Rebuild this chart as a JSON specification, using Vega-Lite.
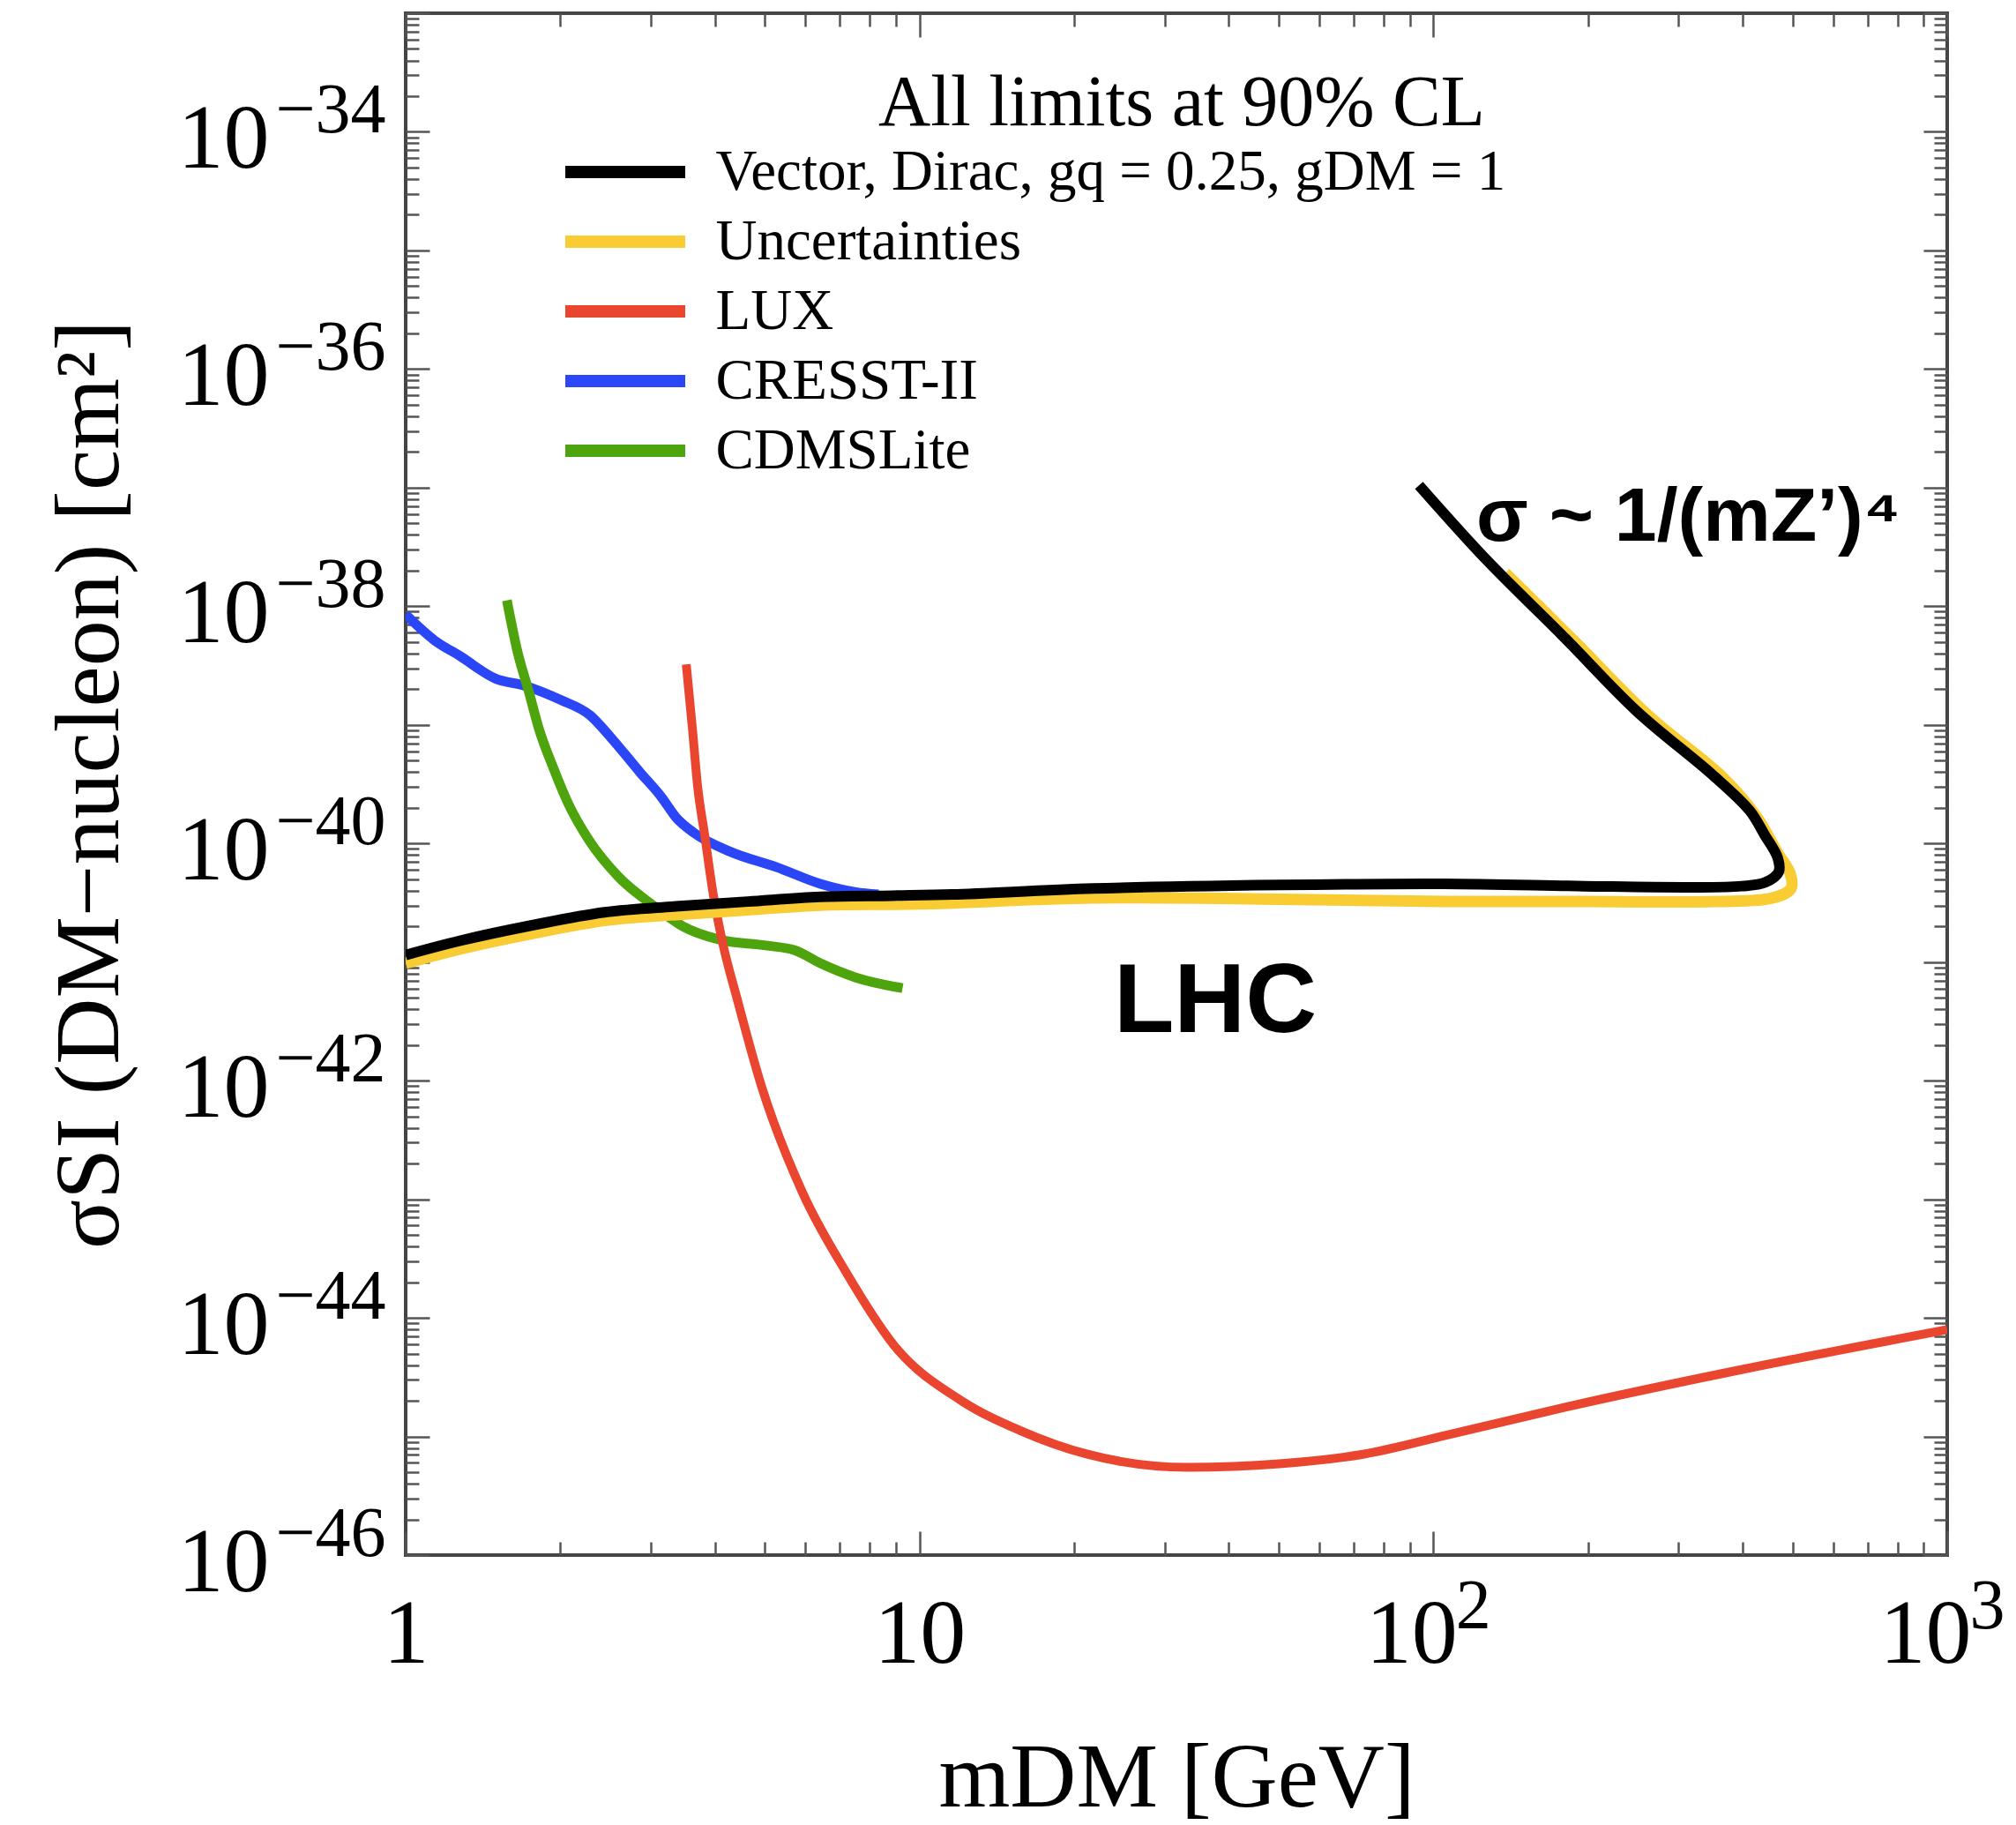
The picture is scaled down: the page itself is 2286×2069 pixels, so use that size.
{
 "$schema": "https://vega.github.io/schema/vega-lite/v6.json",
 "width": 1748,
 "height": 1748,
 "autosize": {"type": "none"},
 "padding": {"left": 460, "top": 15, "right": 78, "bottom": 306},
 "background": "white",
 "config": {
  "view": {"stroke": "#444444", "strokeWidth": 4},
  "axis": {"grid": false, "domain": false, "labelFlush": false, "labelOverlap": false, "labelBound": false, "tickColor": "#555555", "tickWidth": 2.5, "labelColor": "black", "titleColor": "black", "labelFont": "Liberation Serif", "titleFont": "Liberation Serif", "titleFontWeight": "normal", "labelLimit": 1000}
 },
 "datasets": {
  "curves": [
   {"series": "Vector, Dirac, gq = 0.25, gDM = 1", "i": 0, "m": 1, "s": 1.148e-41},
   {"series": "Vector, Dirac, gq = 0.25, gDM = 1", "i": 1, "m": 1.276, "s": 1.514e-41},
   {"series": "Vector, Dirac, gq = 0.25, gDM = 1", "i": 2, "m": 1.762, "s": 2.042e-41},
   {"series": "Vector, Dirac, gq = 0.25, gDM = 1", "i": 3, "m": 2.438, "s": 2.63e-41},
   {"series": "Vector, Dirac, gq = 0.25, gDM = 1", "i": 4, "m": 3.357, "s": 2.951e-41},
   {"series": "Vector, Dirac, gq = 0.25, gDM = 1", "i": 5, "m": 4.634, "s": 3.236e-41},
   {"series": "Vector, Dirac, gq = 0.25, gDM = 1", "i": 6, "m": 6.412, "s": 3.548e-41},
   {"series": "Vector, Dirac, gq = 0.25, gDM = 1", "i": 7, "m": 8.831, "s": 3.631e-41},
   {"series": "Vector, Dirac, gq = 0.25, gDM = 1", "i": 8, "m": 11.59, "s": 3.715e-41},
   {"series": "Vector, Dirac, gq = 0.25, gDM = 1", "i": 9, "m": 21.73, "s": 4.169e-41},
   {"series": "Vector, Dirac, gq = 0.25, gDM = 1", "i": 10, "m": 50.12, "s": 4.467e-41},
   {"series": "Vector, Dirac, gq = 0.25, gDM = 1", "i": 11, "m": 104.9, "s": 4.571e-41},
   {"series": "Vector, Dirac, gq = 0.25, gDM = 1", "i": 12, "m": 196.8, "s": 4.365e-41},
   {"series": "Vector, Dirac, gq = 0.25, gDM = 1", "i": 13, "m": 316.2, "s": 4.266e-41},
   {"series": "Vector, Dirac, gq = 0.25, gDM = 1", "i": 14, "m": 398.1, "s": 4.365e-41},
   {"series": "Vector, Dirac, gq = 0.25, gDM = 1", "i": 15, "m": 441.6, "s": 4.677e-41},
   {"series": "Vector, Dirac, gq = 0.25, gDM = 1", "i": 16, "m": 469.9, "s": 5.754e-41},
   {"series": "Vector, Dirac, gq = 0.25, gDM = 1", "i": 17, "m": 467.7, "s": 7.586e-41},
   {"series": "Vector, Dirac, gq = 0.25, gDM = 1", "i": 18, "m": 441.6, "s": 1.175e-40},
   {"series": "Vector, Dirac, gq = 0.25, gDM = 1", "i": 19, "m": 412.1, "s": 1.905e-40},
   {"series": "Vector, Dirac, gq = 0.25, gDM = 1", "i": 20, "m": 349.1, "s": 3.802e-40},
   {"series": "Vector, Dirac, gq = 0.25, gDM = 1", "i": 21, "m": 249.5, "s": 1.288e-39},
   {"series": "Vector, Dirac, gq = 0.25, gDM = 1", "i": 22, "m": 178.6, "s": 5.623e-39},
   {"series": "Vector, Dirac, gq = 0.25, gDM = 1", "i": 23, "m": 127.6, "s": 2.399e-38},
   {"series": "Vector, Dirac, gq = 0.25, gDM = 1", "i": 24, "m": 93.76, "s": 1.047e-37},
   {"series": "Uncertainties", "i": 0, "m": 1, "s": 9.772e-42},
   {"series": "Uncertainties", "i": 1, "m": 1.276, "s": 1.288e-41},
   {"series": "Uncertainties", "i": 2, "m": 1.762, "s": 1.738e-41},
   {"series": "Uncertainties", "i": 3, "m": 2.438, "s": 2.239e-41},
   {"series": "Uncertainties", "i": 4, "m": 3.357, "s": 2.512e-41},
   {"series": "Uncertainties", "i": 5, "m": 4.634, "s": 2.754e-41},
   {"series": "Uncertainties", "i": 6, "m": 6.412, "s": 3.02e-41},
   {"series": "Uncertainties", "i": 7, "m": 10, "s": 3.09e-41},
   {"series": "Uncertainties", "i": 8, "m": 21.73, "s": 3.467e-41},
   {"series": "Uncertainties", "i": 9, "m": 50.12, "s": 3.388e-41},
   {"series": "Uncertainties", "i": 10, "m": 104.9, "s": 3.236e-41},
   {"series": "Uncertainties", "i": 11, "m": 199.5, "s": 3.236e-41},
   {"series": "Uncertainties", "i": 12, "m": 354.8, "s": 3.236e-41},
   {"series": "Uncertainties", "i": 13, "m": 457.1, "s": 3.467e-41},
   {"series": "Uncertainties", "i": 14, "m": 496.6, "s": 4.169e-41},
   {"series": "Uncertainties", "i": 15, "m": 494.3, "s": 5.623e-41},
   {"series": "Uncertainties", "i": 16, "m": 467.7, "s": 8.318e-41},
   {"series": "Uncertainties", "i": 17, "m": 426.6, "s": 1.66e-40},
   {"series": "Uncertainties", "i": 18, "m": 367.3, "s": 3.548e-40},
   {"series": "Uncertainties", "i": 19, "m": 261.8, "s": 1.202e-39},
   {"series": "Uncertainties", "i": 20, "m": 186.6, "s": 5.248e-39},
   {"series": "Uncertainties", "i": 21, "m": 138.0, "s": 1.905e-38},
   {"series": "LUX", "i": 0, "m": 3.516, "s": 3.236e-39},
   {"series": "LUX", "i": 1, "m": 3.614, "s": 9.333e-40},
   {"series": "LUX", "i": 2, "m": 3.698, "s": 3.09e-40},
   {"series": "LUX", "i": 3, "m": 3.819, "s": 1.175e-40},
   {"series": "LUX", "i": 4, "m": 3.972, "s": 3.631e-41},
   {"series": "LUX", "i": 5, "m": 4.14, "s": 1.445e-41},
   {"series": "LUX", "i": 6, "m": 4.416, "s": 4.898e-42},
   {"series": "LUX", "i": 7, "m": 4.92, "s": 9.12e-43},
   {"series": "LUX", "i": 8, "m": 5.929, "s": 1.122e-43},
   {"series": "LUX", "i": 9, "m": 7.161, "s": 2.512e-44},
   {"series": "LUX", "i": 10, "m": 8.954, "s": 5.754e-45},
   {"series": "LUX", "i": 11, "m": 12.08, "s": 1.995e-45},
   {"series": "LUX", "i": 12, "m": 15.7, "s": 1.122e-45},
   {"series": "LUX", "i": 13, "m": 21.23, "s": 7.079e-46},
   {"series": "LUX", "i": 14, "m": 33.19, "s": 5.495e-46},
   {"series": "LUX", "i": 15, "m": 50.12, "s": 5.888e-46},
   {"series": "LUX", "i": 16, "m": 72.95, "s": 7.079e-46},
   {"series": "LUX", "i": 17, "m": 105.9, "s": 1.023e-45},
   {"series": "LUX", "i": 18, "m": 186.2, "s": 1.82e-45},
   {"series": "LUX", "i": 19, "m": 393.6, "s": 3.631e-45},
   {"series": "LUX", "i": 20, "m": 1000, "s": 7.943e-45},
   {"series": "CRESST-II", "i": 0, "m": 1, "s": 8.511e-39},
   {"series": "CRESST-II", "i": 1, "m": 1.14, "s": 5.129e-39},
   {"series": "CRESST-II", "i": 2, "m": 1.276, "s": 3.802e-39},
   {"series": "CRESST-II", "i": 3, "m": 1.496, "s": 2.455e-39},
   {"series": "CRESST-II", "i": 4, "m": 1.706, "s": 2.138e-39},
   {"series": "CRESST-II", "i": 5, "m": 2.004, "s": 1.622e-39},
   {"series": "CRESST-II", "i": 6, "m": 2.286, "s": 1.202e-39},
   {"series": "CRESST-II", "i": 7, "m": 2.512, "s": 7.762e-40},
   {"series": "CRESST-II", "i": 8, "m": 2.858, "s": 3.981e-40},
   {"series": "CRESST-II", "i": 9, "m": 3.148, "s": 2.455e-40},
   {"series": "CRESST-II", "i": 10, "m": 3.357, "s": 1.66e-40},
   {"series": "CRESST-II", "i": 11, "m": 3.639, "s": 1.23e-40},
   {"series": "CRESST-II", "i": 12, "m": 4.285, "s": 8.511e-41},
   {"series": "CRESST-II", "i": 13, "m": 5.272, "s": 6.31e-41},
   {"series": "CRESST-II", "i": 14, "m": 6.412, "s": 4.571e-41},
   {"series": "CRESST-II", "i": 15, "m": 7.516, "s": 3.89e-41},
   {"series": "CRESST-II", "i": 16, "m": 8.318, "s": 3.715e-41},
   {"series": "CDMSLite", "i": 0, "m": 1.574, "s": 1.122e-38},
   {"series": "CDMSLite", "i": 1, "m": 1.652, "s": 4.074e-39},
   {"series": "CDMSLite", "i": 2, "m": 1.734, "s": 1.95e-39},
   {"series": "CDMSLite", "i": 3, "m": 1.816, "s": 9.333e-40},
   {"series": "CDMSLite", "i": 4, "m": 1.941, "s": 4.266e-40},
   {"series": "CDMSLite", "i": 5, "m": 2.07, "s": 2.188e-40},
   {"series": "CDMSLite", "i": 6, "m": 2.28, "s": 1.047e-40},
   {"series": "CDMSLite", "i": 7, "m": 2.594, "s": 5.248e-41},
   {"series": "CDMSLite", "i": 8, "m": 3.048, "s": 2.951e-41},
   {"series": "CDMSLite", "i": 9, "m": 3.467, "s": 1.995e-41},
   {"series": "CDMSLite", "i": 10, "m": 4.074, "s": 1.549e-41},
   {"series": "CDMSLite", "i": 11, "m": 5.023, "s": 1.38e-41},
   {"series": "CDMSLite", "i": 12, "m": 5.715, "s": 1.259e-41},
   {"series": "CDMSLite", "i": 13, "m": 6.412, "s": 9.772e-42},
   {"series": "CDMSLite", "i": 14, "m": 7.516, "s": 7.413e-42},
   {"series": "CDMSLite", "i": 15, "m": 9.268, "s": 6.026e-42}
  ],
  "notes": [
   {"kind": "title", "m": 8.317, "s": 1.136e-34, "label": "All limits at 90% CL"},
   {"kind": "lhc", "m": 23.88, "s": 2.57e-42, "label": "LHC"},
   {"kind": "sigma", "m": 121.2, "s": 3.6e-38, "label": "σ ~ 1/(mZ’)⁴"}
  ]
 },
 "encoding": {
  "color": {
   "field": "series",
   "type": "nominal",
   "scale": {
    "domain": ["Vector, Dirac, gq = 0.25, gDM = 1", "Uncertainties", "LUX", "CRESST-II", "CDMSLite"],
    "range": ["#000000", "#F9CC33", "#E9452F", "#2B46F6", "#4EA40D"]
   },
   "legend": {
    "title": null,
    "orient": "none",
    "legendX": 216.5,
    "legendY": 147.5,
    "direction": "vertical",
    "columns": 1,
    "padding": 0,
    "offset": 0,
    "symbolType": "M-4,0H4",
    "symbolSize": 1156,
    "symbolStrokeWidth": 14,
    "symbolOffset": 0,
    "labelFont": "Liberation Serif",
    "labelFontSize": 65,
    "labelColor": "black",
    "labelOffset": 70,
    "labelLimit": 2000,
    "rowPadding": 13
   }
  }
 },
 "layer": [
  {
   "data": {"name": "curves"},
   "transform": [{"filter": "datum.series === 'CRESST-II'"}],
   "mark": {"type": "line", "strokeWidth": 11, "interpolate": "monotone", "clip": true},
   "encoding": {
    "x": {"field": "m", "type": "quantitative", "scale": {"type": "log", "domain": [1, 1000], "nice": false},
     "axis": {"orient": "bottom", "values": [1, 10], "labelExpr": "datum.value < 5 ? '1' : '10'", "ticks": false, "labelFontSize": 104, "labelAlign": "center", "labelBaseline": "alphabetic", "labelPadding": 121,
      "title": "mDM  [GeV]", "titleFontSize": 104, "titleAlign": "center", "titleBaseline": "alphabetic", "titleX": 874, "titleY": 284, "titleAngle": 0}},
    "y": {"field": "s", "type": "quantitative", "scale": {"type": "log", "domain": [1e-46, 1e-33], "nice": false},
     "axis": {"orient": "left", "values": [1e-46, 1e-44, 1e-42, 1e-40, 1e-38, 1e-36, 1e-34], "labelExpr": "'10'", "ticks": false, "labelFontSize": 104, "labelAlign": "right", "labelBaseline": "alphabetic", "labelPadding": 155, "labelOffset": 40,
      "title": "σSI (DM−nucleon)  [cm²]", "titleFontSize": 104, "titleAlign": "center", "titleBaseline": "alphabetic", "titleAngle": 270, "titleX": -327, "titleY": 874}}
   }
  },
  {
   "data": {"name": "curves"},
   "transform": [{"filter": "datum.series === 'CDMSLite'"}],
   "mark": {"type": "line", "strokeWidth": 11, "interpolate": "monotone", "clip": true},
   "encoding": {
    "x": {"field": "m", "type": "quantitative", "scale": {"type": "log", "domain": [1, 1000], "nice": false},
     "axis": {"orient": "bottom", "values": [100, 1000], "labelExpr": "'10'", "ticks": false, "labelFontSize": 104, "labelAlign": "center", "labelBaseline": "alphabetic", "labelPadding": 121, "labelOffset": -25, "title": null}},
    "y": {"field": "s", "type": "quantitative", "scale": {"type": "log", "domain": [1e-46, 1e-33], "nice": false},
     "axis": {"orient": "left", "values": [1e-46, 1e-44, 1e-42, 1e-40, 1e-38, 1e-36, 1e-34], "labelExpr": "'−' + format(-round(log(datum.value)/LN10), 'd')", "ticks": false, "labelFontSize": 80, "labelAlign": "right", "labelBaseline": "alphabetic", "labelPadding": 23, "labelOffset": 0, "title": null}}
   }
  },
  {
   "data": {"name": "curves"},
   "transform": [{"filter": "datum.series === 'LUX'"}],
   "mark": {"type": "line", "strokeWidth": 10, "interpolate": "monotone", "clip": true},
   "encoding": {
    "x": {"field": "m", "type": "quantitative", "scale": {"type": "log", "domain": [1, 1000], "nice": false},
     "axis": {"orient": "bottom", "values": [100, 1000], "labelExpr": "datum.value < 500 ? '2' : '3'", "ticks": false, "labelFontSize": 80, "labelAlign": "left", "labelBaseline": "alphabetic", "labelPadding": 82, "labelOffset": 25, "title": null}},
    "y": {"field": "s", "type": "quantitative", "scale": {"type": "log", "domain": [1e-46, 1e-33], "nice": false},
     "axis": {"orient": "left", "values": [1e-46, 1e-45, 1e-44, 1e-43, 1e-42, 1e-41, 1e-40, 1e-39, 1e-38, 1e-37, 1e-36, 1e-35, 1e-34, 1e-33], "labels": false, "ticks": true, "tickSize": -27, "title": null}}
   }
  },
  {
   "data": {"name": "curves"},
   "transform": [{"filter": "datum.series === 'Uncertainties'"}],
   "mark": {"type": "line", "strokeWidth": 13, "interpolate": "catmull-rom", "clip": true},
   "encoding": {
    "order": {"field": "i", "type": "quantitative"},
    "x": {"field": "m", "type": "quantitative", "scale": {"type": "log", "domain": [1, 1000], "nice": false},
     "axis": {"orient": "bottom", "values": [1, 10, 100, 1000], "labels": false, "ticks": true, "tickSize": -27, "title": null}},
    "y": {"field": "s", "type": "quantitative", "scale": {"type": "log", "domain": [1e-46, 1e-33], "nice": false},
     "axis": {"orient": "left", "values": [2e-46, 3e-46, 4e-46, 5e-46, 6e-46, 7e-46, 8e-46, 9e-46, 2e-45, 3e-45, 4e-45, 5e-45, 6e-45, 7e-45, 8e-45, 9e-45, 2e-44, 3e-44, 4e-44, 5e-44, 6e-44, 7e-44, 8e-44, 9e-44, 2e-43, 3e-43, 4e-43, 5e-43, 6e-43, 7e-43, 8e-43, 9e-43, 2e-42, 3e-42, 4e-42, 5e-42, 6e-42, 7e-42, 8e-42, 9e-42, 2e-41, 3e-41, 4e-41, 5e-41, 6e-41, 7e-41, 8e-41, 9e-41, 2e-40, 3e-40, 4e-40, 5e-40, 6e-40, 7e-40, 8e-40, 9e-40, 2e-39, 3e-39, 4e-39, 5e-39, 6e-39, 7e-39, 8e-39, 9e-39, 2e-38, 3e-38, 4e-38, 5e-38, 6e-38, 7e-38, 8e-38, 9e-38, 2e-37, 3e-37, 4e-37, 5e-37, 6e-37, 7e-37, 8e-37, 9e-37, 2e-36, 3e-36, 4e-36, 5e-36, 6e-36, 7e-36, 8e-36, 9e-36, 2e-35, 3e-35, 4e-35, 5e-35, 6e-35, 7e-35, 8e-35, 9e-35, 2e-34, 3e-34, 4e-34, 5e-34, 6e-34, 7e-34, 8e-34, 9e-34], "labels": false, "ticks": true, "tickSize": -15, "title": null}}
   }
  },
  {
   "data": {"name": "curves"},
   "transform": [{"filter": "datum.series === 'Vector, Dirac, gq = 0.25, gDM = 1'"}],
   "mark": {"type": "line", "strokeWidth": 12, "interpolate": "catmull-rom", "clip": true},
   "encoding": {
    "order": {"field": "i", "type": "quantitative"},
    "x": {"field": "m", "type": "quantitative", "scale": {"type": "log", "domain": [1, 1000], "nice": false},
     "axis": {"orient": "bottom", "values": [2, 3, 4, 5, 6, 7, 8, 9, 20, 30, 40, 50, 60, 70, 80, 90, 200, 300, 400, 500, 600, 700, 800, 900], "labels": false, "ticks": true, "tickSize": -15, "title": null}},
    "y": {"field": "s", "type": "quantitative", "scale": {"type": "log", "domain": [1e-46, 1e-33], "nice": false},
     "axis": {"orient": "right", "values": [1e-46, 1e-45, 1e-44, 1e-43, 1e-42, 1e-41, 1e-40, 1e-39, 1e-38, 1e-37, 1e-36, 1e-35, 1e-34, 1e-33], "labels": false, "ticks": true, "tickSize": -27, "title": null}}
   }
  },
  {
   "data": {"name": "notes"},
   "transform": [{"filter": "datum.kind === 'title'"}],
   "mark": {"type": "text", "font": "Liberation Serif", "fontSize": 82, "align": "left", "baseline": "alphabetic"},
   "encoding": {
    "text": {"field": "label"},
    "color": {"value": "black"},
    "x": {"field": "m", "type": "quantitative", "scale": {"type": "log", "domain": [1, 1000], "nice": false},
     "axis": {"orient": "top", "values": [1, 10, 100, 1000], "labels": false, "ticks": true, "tickSize": -27, "title": null}},
    "y": {"field": "s", "type": "quantitative", "scale": {"type": "log", "domain": [1e-46, 1e-33], "nice": false},
     "axis": {"orient": "right", "values": [2e-46, 3e-46, 4e-46, 5e-46, 6e-46, 7e-46, 8e-46, 9e-46, 2e-45, 3e-45, 4e-45, 5e-45, 6e-45, 7e-45, 8e-45, 9e-45, 2e-44, 3e-44, 4e-44, 5e-44, 6e-44, 7e-44, 8e-44, 9e-44, 2e-43, 3e-43, 4e-43, 5e-43, 6e-43, 7e-43, 8e-43, 9e-43, 2e-42, 3e-42, 4e-42, 5e-42, 6e-42, 7e-42, 8e-42, 9e-42, 2e-41, 3e-41, 4e-41, 5e-41, 6e-41, 7e-41, 8e-41, 9e-41, 2e-40, 3e-40, 4e-40, 5e-40, 6e-40, 7e-40, 8e-40, 9e-40, 2e-39, 3e-39, 4e-39, 5e-39, 6e-39, 7e-39, 8e-39, 9e-39, 2e-38, 3e-38, 4e-38, 5e-38, 6e-38, 7e-38, 8e-38, 9e-38, 2e-37, 3e-37, 4e-37, 5e-37, 6e-37, 7e-37, 8e-37, 9e-37, 2e-36, 3e-36, 4e-36, 5e-36, 6e-36, 7e-36, 8e-36, 9e-36, 2e-35, 3e-35, 4e-35, 5e-35, 6e-35, 7e-35, 8e-35, 9e-35, 2e-34, 3e-34, 4e-34, 5e-34, 6e-34, 7e-34, 8e-34, 9e-34], "labels": false, "ticks": true, "tickSize": -15, "title": null}}
   }
  },
  {
   "data": {"name": "notes"},
   "transform": [{"filter": "datum.kind === 'lhc'"}],
   "mark": {"type": "text", "font": "Liberation Sans", "fontWeight": "bold", "fontSize": 112, "align": "left", "baseline": "alphabetic"},
   "encoding": {
    "text": {"field": "label"},
    "color": {"value": "black"},
    "x": {"field": "m", "type": "quantitative", "scale": {"type": "log", "domain": [1, 1000], "nice": false},
     "axis": {"orient": "top", "values": [2, 3, 4, 5, 6, 7, 8, 9, 20, 30, 40, 50, 60, 70, 80, 90, 200, 300, 400, 500, 600, 700, 800, 900], "labels": false, "ticks": true, "tickSize": -15, "title": null}},
    "y": {"field": "s", "type": "quantitative", "scale": {"type": "log", "domain": [1e-46, 1e-33], "nice": false}, "axis": null}
   }
  },
  {
   "data": {"name": "notes"},
   "transform": [{"filter": "datum.kind === 'sigma'"}],
   "mark": {"type": "text", "font": "Liberation Sans", "fontWeight": "bold", "fontSize": 86, "align": "left", "baseline": "alphabetic"},
   "encoding": {
    "text": {"field": "label"},
    "color": {"value": "black"},
    "x": {"field": "m", "type": "quantitative", "scale": {"type": "log", "domain": [1, 1000], "nice": false}, "axis": null},
    "y": {"field": "s", "type": "quantitative", "scale": {"type": "log", "domain": [1e-46, 1e-33], "nice": false}, "axis": null}
   }
  }
 ],
 "resolve": {"axis": {"x": "independent", "y": "independent"}}
}
